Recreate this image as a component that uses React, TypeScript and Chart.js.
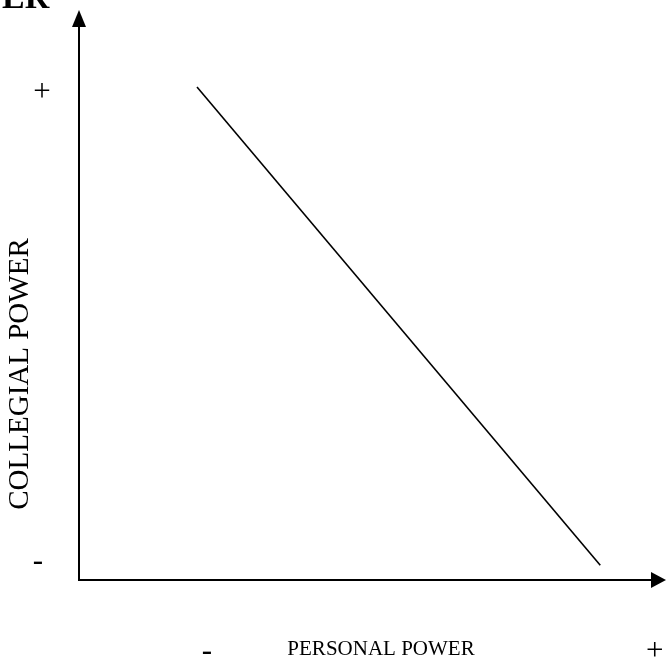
import React, { useEffect, useRef } from "react";
import { Chart, registerables } from "chart.js";

Chart.register(...registerables);

// Data (axis units 0..10)
const lineX = [2.01, 8.88];
const lineY = [8.65, 0.26];

const xTickValues = [2.18, 9.81];
const xTickLabels = ["-", "+"];
const yTickValues = [8.55, 0.32];
const yTickLabels = ["+", "-"];

const xTitle = "PERSONAL POWER";
const yTitle = "COLLEGIAL POWER";
const cornerText = "ER";

const FONT = '"Liberation Serif", "Times New Roman", serif';

const axesPlugin = {
  id: "arrowAxes",
  afterDraw(chart: any) {
    const { ctx, chartArea, scales } = chart;
    const { left, bottom, top, right } = chartArea;
    ctx.save();
    ctx.strokeStyle = "#000";
    ctx.fillStyle = "#000";
    ctx.lineWidth = 2;
    // y axis
    ctx.beginPath();
    ctx.moveTo(left, bottom + 1);
    ctx.lineTo(left, top + 14);
    ctx.stroke();
    ctx.beginPath();
    ctx.moveTo(left, top);
    ctx.lineTo(left - 7, top + 17);
    ctx.lineTo(left + 7, top + 17);
    ctx.closePath();
    ctx.fill();
    // x axis
    ctx.beginPath();
    ctx.moveTo(left, bottom);
    ctx.lineTo(right - 12, bottom);
    ctx.stroke();
    ctx.beginPath();
    ctx.moveTo(right, bottom);
    ctx.lineTo(right - 15, bottom - 8);
    ctx.lineTo(right - 15, bottom + 8);
    ctx.closePath();
    ctx.fill();

    // texts
    ctx.textAlign = "center";
    ctx.textBaseline = "middle";
    const xs = scales.x;
    const ys = scales.y;
    ctx.font = `31px ${FONT}`;
    xTickValues.forEach((v, i) => {
      ctx.fillText(xTickLabels[i], xs.getPixelForValue(v), 652);
    });
    yTickValues.forEach((v, i) => {
      ctx.fillText(yTickLabels[i], i === 0 ? 42 : 38, ys.getPixelForValue(v));
    });
    ctx.font = `21px ${FONT}`;
    ctx.fillText(xTitle, 381, 649);
    ctx.save();
    ctx.translate(20, 374);
    ctx.rotate(-Math.PI / 2);
    ctx.font = `29px ${FONT}`;
    ctx.fillText(yTitle, 0, 0);
    ctx.restore();

    ctx.font = `bold 34px ${FONT}`;
    ctx.textAlign = "left";
    ctx.textBaseline = "alphabetic";
    ctx.fillText(cornerText, 2, 8);
    ctx.restore();
  },
};

export default function App() {
  const ref = useRef<HTMLCanvasElement>(null);
  useEffect(() => {
    if (!ref.current) return;
    const chart = new Chart(ref.current, {
      type: "scatter",
      data: {
        datasets: [
          {
            data: lineX.map((x, i) => ({ x, y: lineY[i] })),
            showLine: true,
            borderColor: "#000",
            borderWidth: 1.6,
            pointRadius: 0,
          },
        ],
      },
      options: {
        animation: false,
        responsive: false,
        maintainAspectRatio: false,
        layout: { padding: { left: 79, top: 10, right: 0, bottom: 81 } },
        plugins: { legend: { display: false }, tooltip: { enabled: false } },
        scales: {
          x: { type: "linear", min: 0, max: 10, display: false },
          y: { type: "linear", min: 0, max: 10, display: false },
        },
      },
      plugins: [axesPlugin],
    });
    return () => chart.destroy();
  }, []);
  return (
    <div style={{ position: "fixed", left: 0, top: 0, width: 666, height: 661, background: "#fff" }}>
      <canvas ref={ref} width={666} height={661} style={{ width: 666, height: 661, display: "block" }} />
    </div>
  );
}
